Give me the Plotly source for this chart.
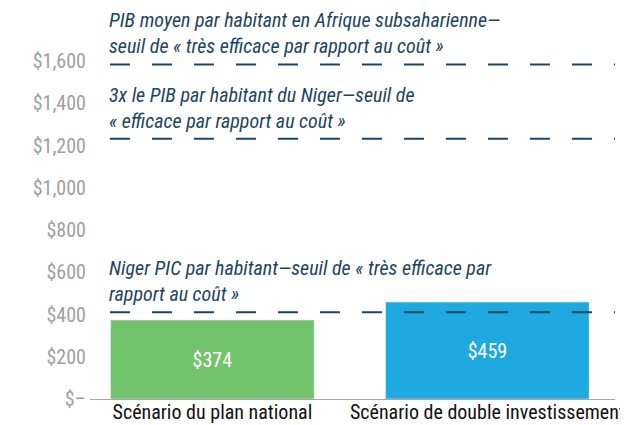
import plotly.graph_objects as go

categories = ["Scénario du plan national", "Scénario de double investissement"]
values = [374, 459]
value_labels = ["$374", "$459"]
bar_colors = ["#72C36B", "#1FA9E1"]

thresholds = [411, 1233, 1585]
threshold_labels = [
    "Niger PIC par habitant—seuil de « très efficace par<br>rapport au coût »",
    "3x le PIB par habitant du Niger—seuil de<br>« efficace par rapport au coût »",
    "PIB moyen par habitant en Afrique subsaharienne—<br>seuil de « très efficace par rapport au coût »",
]

tick_vals = [0, 200, 400, 600, 800, 1000, 1200, 1400, 1600]
tick_text = ["$–", "$200", "$400", "$600", "$800", "$1,000", "$1,200", "$1,400", "$1,600"]

FONT = "Roboto Condensed, Liberation Sans Narrow, DejaVu Sans Condensed, Roboto, sans-serif"
NAVY = "#1C4463"

fig = go.Figure()
fig.add_trace(go.Bar(
    x=categories, y=values, marker_color=bar_colors, width=0.74,
    text=value_labels, textposition="inside", insidetextanchor="middle",
    textfont=dict(color="white", size=20, family=FONT),
    hoverinfo="skip",
))

for v, lab in zip(thresholds, threshold_labels):
    fig.add_shape(type="line", xref="paper", yref="y", x0=0.038, x1=1, y0=v, y1=v,
                  line=dict(color=NAVY, width=2, dash="20px,22px"))
    fig.add_annotation(xref="paper", yref="y", x=0.038, y=v, xanchor="left", yanchor="bottom",
                       yshift=4, xshift=-3, text="<i>" + lab + "</i>", showarrow=False, align="left",
                       font=dict(color=NAVY, size=20, family=FONT))

fig.update_layout(
    width=620, height=417,
    margin=dict(l=82, r=13, t=11, b=26),
    plot_bgcolor="white", paper_bgcolor="white",
    showlegend=False,
    font=dict(family=FONT),
    xaxis=dict(range=[-0.445, 1.464], showline=True, linecolor="#A6A6A6", linewidth=1,
               ticks="", automargin=False, ticklabelstandoff=-5,
               tickfont=dict(color="#111111", size=20, family=FONT)),
    yaxis=dict(range=[0, 1800], tickvals=tick_vals, ticktext=tick_text, showgrid=False,
               zeroline=False, ticks="", ticklen=0, automargin=False, ticklabelstandoff=3,
               tickfont=dict(color="#A0A0A0", size=20, family=FONT)),
)

fig.write_html("out.html")
